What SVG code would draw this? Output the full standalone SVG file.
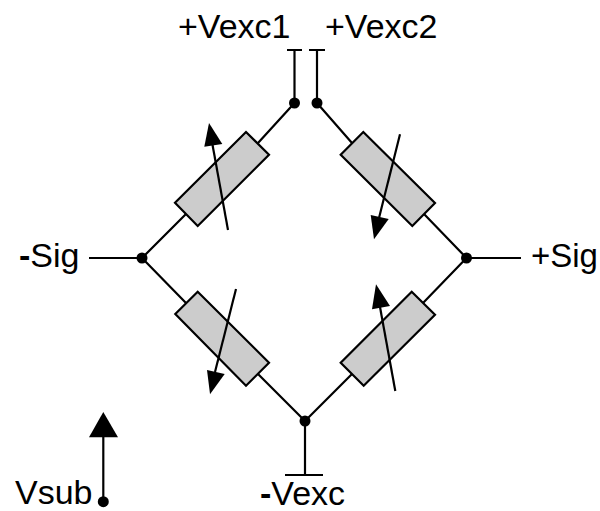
<svg xmlns="http://www.w3.org/2000/svg" width="600" height="511" viewBox="0 0 600 511">
<style>
.w{fill:none;stroke:#000;stroke-width:2.200}
.r{fill:#ccc;stroke:#000;stroke-width:2.200}
.d{fill:#000;stroke:none}
text{font-family:"Liberation Sans",Arial,sans-serif;font-size:34px;fill:#000}
.b{font-weight:bold}
</style>
<rect width="600" height="511" fill="#fff"/>
<g id="connectors">
<path class="w" d="M294.500 103V50M287 50H302M317 103V50M309 50H325"/>
<path class="w" d="M294.500 103L258 143M186 214L142 258"/>
<path class="w" d="M317 103L352 143M424 214L466.500 258"/>
<path class="w" d="M142 258L186 303M258 374L305 421"/>
<path class="w" d="M466.500 258L423 303M352 374L305 421"/>
<path class="w" d="M89 258H142M466.500 258H521"/>
<path class="w" d="M305 421V475M285 475H323"/>
</g>
<g id="r1"><polygon class="r" points="246,132 269,154.700 197.700,226 175,202.700"/><path class="w" d="M228 230L212 142"/><polygon class="d" points="209,123 204.300,146.700 222.300,144"/></g>
<g id="r2"><polygon class="r" points="363.300,132 340.700,154.700 412.300,226 435,203"/><path class="w" d="M400 134.300L379 218"/><polygon class="d" points="374,239.300 370.700,215 388.700,219"/></g>
<g id="r3"><polygon class="r" points="197.700,291.700 175.300,314 246,385.700 269,362.700"/><path class="w" d="M236 289L215 372"/><polygon class="d" points="210,394.300 207,370 224.700,374"/></g>
<g id="r4"><polygon class="r" points="411.700,291.700 435,314.700 363.700,385.700 340.700,362.700"/><path class="w" d="M395.300 391L380 307"/><polygon class="d" points="376,284.300 372,309.300 390,306"/></g>
<g id="n1"><circle class="d" cx="294.500" cy="103" r="5.500"/></g>
<g id="n2"><circle class="d" cx="317" cy="103" r="5.500"/></g>
<g id="n3"><circle class="d" cx="142" cy="258" r="5.500"/></g>
<g id="n4"><circle class="d" cx="466.500" cy="258" r="5.500"/></g>
<g id="n5"><circle class="d" cx="305" cy="421" r="5.500"/></g>
<g id="vsub"><path class="w" d="M103.300 501V436"/><polygon class="d" points="103.300,412 89,437.300 118,437.300"/><circle class="d" cx="103.300" cy="501.700" r="5.500"/></g>
<g id="labels">
<text x="178" y="38">+Vexc1</text>
<text x="325" y="38">+Vexc2</text>
<text x="19" y="267"><tspan class="b">-</tspan>Sig</text>
<text x="531" y="267" style="font-size:33px">+Sig</text>
<text x="15" y="504">Vsub</text>
<text x="260" y="505"><tspan class="b">-</tspan>Vexc</text>
</g>
</svg>
